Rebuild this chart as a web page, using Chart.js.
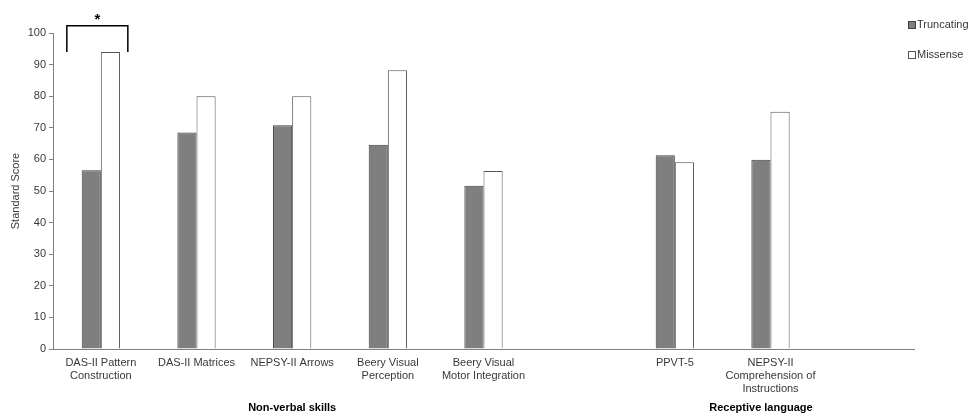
<!DOCTYPE html>
<html>
<head>
<meta charset="utf-8">
<style>
  html, body { margin: 0; padding: 0; background: #fff; }
  #wrap { width: 971px; height: 416px; }
</style>
</head>
<body>
<div id="wrap"><canvas id="score-canvas"></canvas></div>
<script src="https://cdn.jsdelivr.net/npm/chart.js@4.4.1/dist/chart.umd.min.js"></script>
<script>
  // Categories (empty slots keep the gap between the two groups)
  let categories = [
    ['DAS-II Pattern', 'Construction'],
    'DAS-II Matrices',
    'NEPSY-II Arrows',
    ['Beery Visual', 'Perception'],
    ['Beery Visual', 'Motor Integration'],
    '',
    'PPVT-5',
    ['NEPSY-II', 'Comprehension of', 'Instructions'],
    ''
  ];

  // Series values
  let truncating = [56.6, 68.5, 70.8, 64.6, 51.7, null, 61.3, 59.9, null];
  let missense = [94, 80, 80, 88.2, 56.3, null, 59.1, 75.1, null];

  // Group labels under the axis: [label, first slot, last slot]
  let groups = [
    ['Non-verbal skills', 0, 4],
    ['Receptive language', 6.1, 7.7]
  ];

  let y_ticks = [0, 10, 20, 30, 40, 50, 60, 70, 80, 90, 100];

  let font_family = '"Liberation Sans", Arial, sans-serif';
  let text_color = '#383838';

  // Legend, group labels and the significance bracket
  let extras = {
    id: 'extras',
    afterDraw(chart) {
      let ctx = chart.ctx;
      let x = chart.scales.x;
      let y = chart.scales.y;
      ctx.save();

      // legend
      ctx.font = '11px ' + font_family;
      ctx.textBaseline = 'middle';
      ctx.textAlign = 'left';
      chart.data.datasets.forEach(function(ds, i) {
        let ly = 25 + i * 30;
        ctx.fillStyle = ds.backgroundColor;
        ctx.strokeStyle = ds.borderColor;
        ctx.lineWidth = 1;
        ctx.fillRect(908.5, ly - 3.5, 7, 7);
        ctx.strokeRect(908.5, ly - 3.5, 7, 7);
        ctx.fillStyle = text_color;
        ctx.fillText(ds.label, 917, ly);
      });

      // group labels
      ctx.font = 'bold 11px ' + font_family;
      ctx.fillStyle = '#000';
      ctx.textAlign = 'center';
      groups.forEach(function(g) {
        let cx = (x.getPixelForValue(g[1]) + x.getPixelForValue(g[2])) / 2;
        ctx.fillText(g[0], cx, 408);
      });

      // significance bracket over first category
      let bx0 = x.getPixelForValue(0) - 34;
      let bx1 = x.getPixelForValue(0) + 27;
      let top = y.getPixelForValue(102.3);
      let foot = y.getPixelForValue(94);
      ctx.strokeStyle = '#000';
      ctx.lineWidth = 1.5;
      ctx.beginPath();
      ctx.moveTo(bx0, foot);
      ctx.lineTo(bx0, top);
      ctx.lineTo(bx1, top);
      ctx.lineTo(bx1, foot);
      ctx.stroke();
      ctx.font = 'bold 15px ' + font_family;
      ctx.fillText('*', (bx0 + bx1) / 2, top - 6);

      ctx.restore();
    }
  };

  let score_ctx = document.getElementById('score-canvas').getContext('2d');
  let score_chart = new Chart(score_ctx, {
    type: 'bar',
    data: {
      labels: categories,
      datasets: [
        {
          label: 'Truncating',
          data: truncating,
          backgroundColor: '#7f7f7f',
          borderColor: '#3f3f3f',
          borderWidth: 1,
          borderSkipped: 'bottom'
        },
        {
          label: 'Missense',
          data: missense,
          backgroundColor: '#ffffff',
          borderColor: '#555555',
          borderWidth: 1,
          borderSkipped: 'bottom'
        }
      ]
    },
    options: {
      responsive: true,
      maintainAspectRatio: false,
      animation: false,
      layout: { padding: { top: 33, right: 57, bottom: 0, left: 0 } },
      datasets: {
        bar: { categoryPercentage: 0.4, barPercentage: 1.0 }
      },
      plugins: {
        legend: { display: false },
        tooltip: { enabled: false }
      },
      scales: {
        x: {
          grid: { display: false, drawTicks: false },
          border: { color: '#808080', width: 1 },
          ticks: {
            color: text_color,
            font: { family: font_family, size: 11 },
            maxRotation: 0,
            autoSkip: false,
            padding: 7
          },
          afterFit(scale) { scale.height = 67; }
        },
        y: {
          min: 0,
          max: 100,
          afterBuildTicks(scale) {
            scale.ticks = y_ticks.map(function(v) { return { value: v }; });
          },
          grid: { display: true, drawOnChartArea: false, drawTicks: true, tickLength: 4, tickColor: '#808080' },
          border: { color: '#808080', width: 1 },
          ticks: {
            color: text_color,
            font: { family: font_family, size: 11 },
            padding: 3
          },
          title: {
            display: true,
            text: 'Standard Score',
            color: text_color,
            font: { family: font_family, size: 11 },
            padding: { top: 9, bottom: 0 }
          },
          afterFit(scale) { scale.width = 53; }
        }
      }
    },
    plugins: [extras]
  });
</script>
</body>
</html>
